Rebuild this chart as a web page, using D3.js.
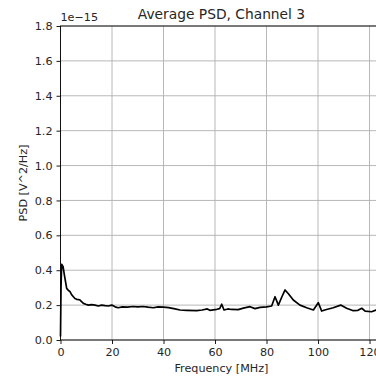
<!DOCTYPE html>
<html>
<head>
<meta charset="utf-8">
<script src="https://cdn.jsdelivr.net/npm/d3@7"></script>
<style>
  body { margin: 0; background: #fff; }
  svg { display: block; font-family: "DejaVu Sans", sans-serif; }
</style>
</head>
<body>
<div id="chart"></div>
<script>
// frequency [MHz] and PSD (in units of 1e-15 V^2/Hz)
const freqs = [0, 0.2, 0.45, 1, 1.5, 2, 2.4, 3, 3.7, 4.3, 5, 5.6, 6.3, 7, 7.6, 8.3, 8.9, 9.8, 10.8, 12, 13.4, 14.7, 16, 17.3, 18.6, 19.9, 21.2, 22.4, 24, 26, 28, 30, 32, 34, 36, 38, 40, 42, 44, 46.4, 49, 52.9, 55, 57, 58, 60.7, 61.8, 62.6, 63.5, 65, 66.4, 69, 71, 73.6, 75.5, 77.5, 80, 82, 83.3, 84.6, 85.9, 87.2, 88.5, 90.4, 93, 95.6, 98.2, 100.1, 101.4, 103.3, 105.9, 108.8, 111.1, 113.7, 115.5, 117, 118.3, 120.8, 122.5, 125];
const psd = [0.02, 0.3, 0.434, 0.42, 0.373, 0.33, 0.296, 0.285, 0.277, 0.26, 0.248, 0.238, 0.233, 0.232, 0.229, 0.218, 0.21, 0.205, 0.2, 0.203, 0.2, 0.195, 0.2, 0.197, 0.195, 0.2, 0.19, 0.185, 0.19, 0.188, 0.192, 0.19, 0.192, 0.188, 0.185, 0.19, 0.188, 0.186, 0.18, 0.172, 0.17, 0.168, 0.172, 0.178, 0.17, 0.176, 0.18, 0.205, 0.172, 0.178, 0.175, 0.174, 0.183, 0.191, 0.18, 0.187, 0.19, 0.195, 0.248, 0.2, 0.245, 0.287, 0.265, 0.229, 0.2, 0.185, 0.172, 0.214, 0.166, 0.175, 0.185, 0.2, 0.182, 0.168, 0.17, 0.182, 0.166, 0.162, 0.172, 0.17];
const xTicks = [0, 20, 40, 60, 80, 100, 120];
const yTicks = [0.0, 0.2, 0.4, 0.6, 0.8, 1.0, 1.2, 1.4, 1.6, 1.8];

const W = 376, H = 377;
const margin = { top: 26, left: 60.5, bottom: 37 };
const plotRight = 382.4;

const x = d3.scaleLinear().domain([0, 125]).range([margin.left, plotRight]);
const y = d3.scaleLinear().domain([0, 1.8]).range([H - margin.bottom, margin.top]);

const svg = d3.select('#chart').append('svg')
  .attr('width', W)
  .attr('height', H);

// grid
svg.append('g').selectAll('line.gx')
  .data(xTicks)
  .join('line')
  .attr('x1', d => x(d)).attr('x2', d => x(d))
  .attr('y1', y(0)).attr('y2', y(1.8))
  .attr('stroke', '#b0b0b0').attr('stroke-width', 0.9);
svg.append('g').selectAll('line.gy')
  .data(yTicks)
  .join('line')
  .attr('x1', x(0)).attr('x2', x(125))
  .attr('y1', d => y(d)).attr('y2', d => y(d))
  .attr('stroke', '#b0b0b0').attr('stroke-width', 0.9);

// the curve
const line = d3.line()
  .x((d, i) => x(freqs[i]))
  .y(d => y(d));
svg.append('path')
  .datum(psd)
  .attr('fill', 'none')
  .attr('stroke', '#000')
  .attr('stroke-width', 1.7)
  .attr('stroke-linejoin', 'round')
  .attr('d', line);

// axes
const xAxis = svg.append('g')
  .attr('transform', `translate(0, ${y(0)})`)
  .call(d3.axisBottom(x).tickValues(xTicks).tickSize(4).tickPadding(4).tickFormat(d3.format('d')));
const yAxis = svg.append('g')
  .attr('transform', `translate(${x(0)}, 0)`)
  .call(d3.axisLeft(y).tickValues(yTicks).tickSize(4).tickPadding(4).tickFormat(d3.format('.1f')));
[xAxis, yAxis].forEach(a => {
  a.select('.domain').remove();
  a.selectAll('.tick line').attr('stroke', '#000').attr('stroke-width', 0.9);
  a.selectAll('.tick text').attr('font-size', 11.2).attr('fill', '#262626')
    .attr('font-family', '"DejaVu Sans", sans-serif');
});

// spines
svg.append('rect')
  .attr('x', x(0)).attr('y', y(1.8))
  .attr('width', x(125) - x(0)).attr('height', y(0) - y(1.8))
  .attr('fill', 'none').attr('stroke', '#000').attr('stroke-width', 0.9);

// texts
svg.append('text')
  .attr('x', (x(0) + x(125)) / 2).attr('y', 18.5)
  .attr('text-anchor', 'middle').attr('font-size', 13.8).attr('fill', '#262626')
  .text('Average PSD, Channel 3');
svg.append('text')
  .attr('x', x(0)).attr('y', 21)
  .attr('font-size', 11.2).attr('fill', '#262626')
  .text('1e\u221215');
svg.append('text')
  .attr('x', (x(0) + x(125)) / 2).attr('y', 372)
  .attr('text-anchor', 'middle').attr('font-size', 11.2).attr('fill', '#262626')
  .text('Frequency [MHz]');
svg.append('text')
  .attr('transform', `translate(27, ${(y(0) + y(1.8)) / 2}) rotate(-90)`)
  .attr('text-anchor', 'middle').attr('font-size', 11.2).attr('fill', '#262626')
  .text('PSD [V^2/Hz]');
</script>
</body>
</html>
